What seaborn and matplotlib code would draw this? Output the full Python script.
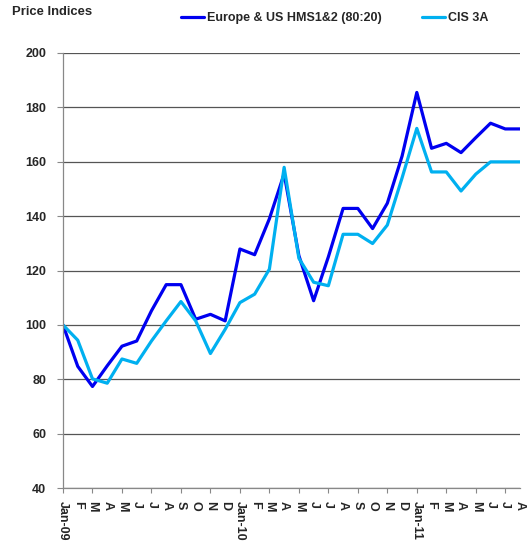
import pandas as pd
import seaborn as sns
import matplotlib.pyplot as plt

# Monthly price indices (Jan-09 = 100)
months = ["Jan-09", "F", "M", "A", "M", "J", "J", "A", "S", "O", "N", "D",
          "Jan-10", "F", "M", "A", "M", "J", "J", "A", "S", "O", "N", "D",
          "Jan-11", "F", "M", "A", "M", "J", "J", "A"]
europe = [100, 84.8, 77.4, 85, 92.2, 94.1, 105.2, 114.8, 114.8, 102.1, 103.9, 101.5,
          127.9, 125.8, 139, 155.5, 125.5, 108.9, 125, 142.8, 142.8, 135.4, 144.7, 162,
          185.4, 164.9, 166.7, 163.3, 168.8, 174.1, 172, 172]
cis = [100, 94.4, 80.2, 78.6, 87.5, 85.9, 94.1, 101.5, 108.6, 101.5, 89.5, 98.4,
       108.2, 111.3, 120.5, 157.9, 124.5, 115.7, 114.4, 133.3, 133.3, 129.9, 136.7, 154,
       172.2, 156.2, 156.2, 149.2, 155.4, 159.9, 159.9, 159.9]
series_names = ["Europe & US HMS1&2 (80:20)", "CIS 3A"]
colors = ["#0000F0", "#00B0F0"]

df = pd.concat([
    pd.DataFrame({"idx": range(len(months)), "value": europe, "series": series_names[0]}),
    pd.DataFrame({"idx": range(len(months)), "value": cis, "series": series_names[1]}),
])

sns.set_style("white")
plt.rcParams['font.family'] = ['Liberation Sans', 'DejaVu Sans']
plt.rcParams['font.weight'] = 'bold'

fig = plt.figure(figsize=(5.28, 5.46), dpi=100)
ax = fig.add_axes([63 / 528, 1 - 488.3 / 546, 457 / 528, (488.3 - 52.7) / 546])

sns.lineplot(data=df, x="idx", y="value", hue="series", palette=colors,
             linewidth=2.3, ax=ax)

handles, labels = ax.get_legend_handles_labels()
ax.get_legend().remove()

ax.set_xlim(0, len(months) - 1)
ax.set_ylim(40, 200)
ax.set_yticks(range(40, 201, 20))
# labels on every month, tick marks on every other month
ax.xaxis.remove_overlapping_locs = False
ax.set_xticks(range(len(months)))
ax.set_xticklabels(months, rotation=-90, fontsize=9, fontweight='bold')
ax.set_xticks(range(0, len(months), 2), minor=True)
ax.tick_params(axis='x', which='major', length=0, pad=9, bottom=True)
ax.tick_params(axis='x', which='minor', length=3.5, width=0.8, color='#888888',
               bottom=True)
ax.tick_params(axis='y', labelsize=9, length=4, width=0.8, color='#888888', pad=8,
               left=True)
for lab in ax.get_yticklabels():
    lab.set_fontweight('bold')
ax.set_xlabel("")
ax.set_ylabel("")

ax.yaxis.grid(True, color='#555555', linewidth=0.9)
ax.set_axisbelow(True)
for s in ['top', 'right']:
    ax.spines[s].set_visible(False)
for s in ['left', 'bottom']:
    ax.spines[s].set_color('#888888')
    ax.spines[s].set_linewidth(0.9)

fig.text(12 / 528, 1 - 12 / 546, "Price Indices", fontsize=9.4, fontweight='bold',
         va='center', ha='left')
fig.legend(handles, labels, loc='center left', bbox_to_anchor=(181 / 528, 1 - 18 / 546),
           ncol=2, frameon=False, handlelength=1.85, handletextpad=0.25,
           columnspacing=3.2, borderaxespad=0, borderpad=0,
           prop={'size': 9, 'weight': 'bold'})

fig.savefig("out.png", dpi=100)
